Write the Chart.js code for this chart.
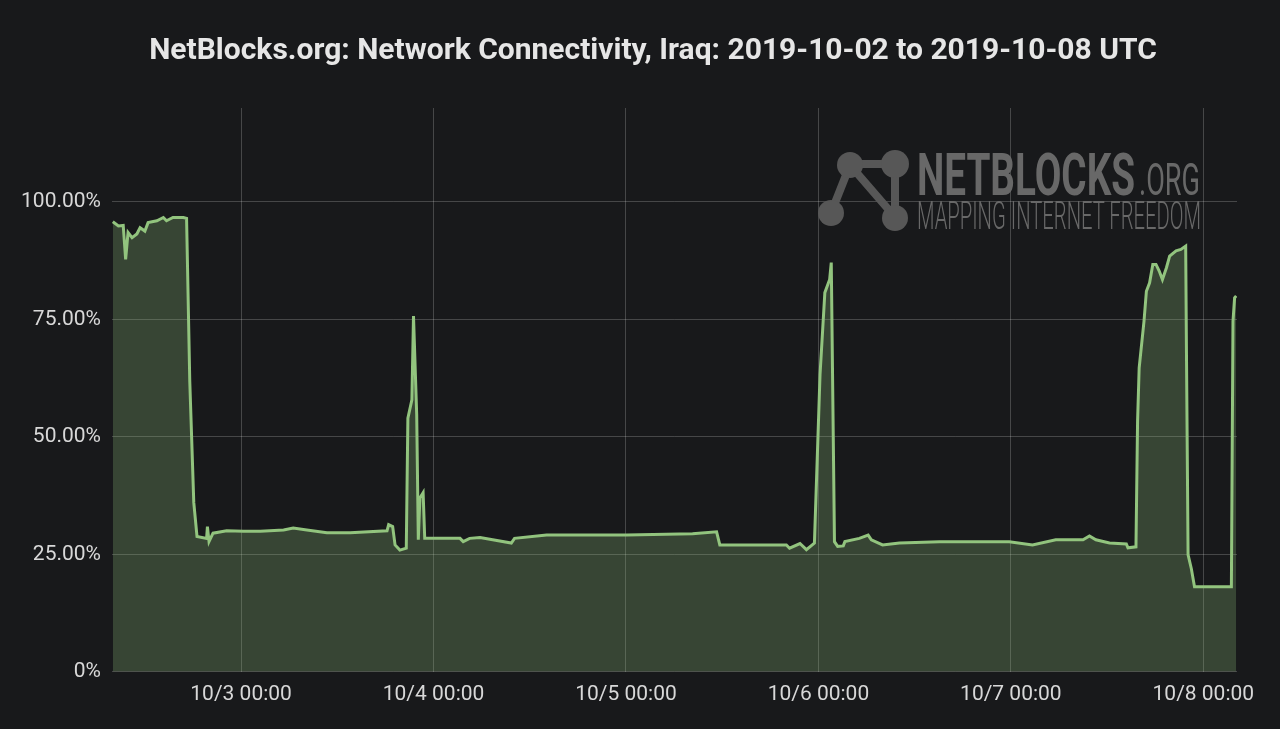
<!DOCTYPE html>
<html>
<head>
<meta charset="utf-8">
<script src="https://cdn.jsdelivr.net/npm/chart.js@4/dist/chart.umd.min.js"></script>
<style>
  html, body { margin: 0; padding: 0; background: #18191b; }
  #wrap { position: relative; width: 1280px; height: 729px; overflow: hidden; }
  #chart { position: absolute; left: 0; top: 0; }
  #mark { position: absolute; left: 0; top: 0; pointer-events: none; }
  #title {
    position: absolute; left: 0; top: 31px; width: 1306px;
    text-align: center; color: #e6e6e6;
    font: bold 30px Roboto, "DejaVu Sans", sans-serif; line-height: 36px;
  }
</style>
</head>
<body>
<div id="wrap">
  <canvas id="chart" width="1280" height="729"></canvas>
  <div id="title"></div>
  <svg id="mark" width="1280" height="729">
    <g stroke="#575757" stroke-width="8" stroke-linecap="round">
      <line x1="850" y1="165" x2="831" y2="213" />
      <line x1="850" y1="165" x2="895" y2="217" />
      <line x1="895" y1="165" x2="895" y2="217" />
      <line x1="862" y1="164" x2="882" y2="164" />
    </g>
    <g fill="#575757">
      <circle cx="850" cy="165" r="13" />
      <circle cx="895" cy="164" r="14" />
      <circle cx="831" cy="213" r="13" />
      <circle cx="895" cy="218" r="13" />
    </g>
    <g font-family="Roboto, 'DejaVu Sans', sans-serif" fill="#686868">
      <text x="917" y="195" font-size="60" font-weight="bold" textLength="218" lengthAdjust="spacingAndGlyphs">NETBLOCKS</text>
      <text x="1139" y="195" font-size="45" textLength="61" lengthAdjust="spacingAndGlyphs">.ORG</text>
      <text x="917" y="229" font-size="38" font-weight="300" textLength="284" lengthAdjust="spacingAndGlyphs">MAPPING INTERNET FREEDOM</text>
    </g>
  </svg>
</div>
<script>
// hours since 2019-10-02 00:00 UTC
const hours = [
  8.0, 8.7, 9.3, 9.6, 9.9, 10.4, 11.0, 11.4, 12.0, 12.4, 13.5, 14.3, 14.7, 15.5, 16.8, 17.2,
  17.6, 18.1, 18.5, 19.7, 19.8, 20.0, 20.5, 22.2, 24.3, 26.4, 29.3, 30.5, 32.2, 34.7, 37.6,
  42.2, 42.4, 42.9, 43.2, 43.8, 44.6, 44.8, 45.3, 45.5, 45.9, 46.1, 46.3, 46.7, 46.9,
  51.3, 51.7, 52.5, 53.8, 57.7, 58.1, 62.1, 72.1, 80.3, 83.3, 83.7, 87.0, 92.0, 92.4,
  93.7, 94.5, 95.5, 96.2, 96.8, 97.4, 97.6, 98.0, 98.4, 99.1, 99.3, 101.1, 102.2, 102.6,
  104.0, 106.1, 111.1, 119.8, 122.7, 125.6, 129.0, 129.8, 130.6, 132.3, 134.4, 134.6,
  135.6, 135.8, 136.0, 136.6, 136.9, 137.3, 137.7, 138.1, 138.5, 138.9, 139.4, 139.8,
  140.6, 141.2, 141.8, 141.9, 142.1, 142.5, 142.9, 147.5, 147.7, 147.9, 148.1
];

// connectivity, percent of normal
const connectivity = [
  95.8, 94.9, 95.0, 87.8, 93.5, 92.4, 93.2, 94.5, 93.8, 95.6, 96.0, 96.7, 96.0, 96.7, 96.7, 96.5,
  61.8, 36.0, 28.8, 28.4, 30.9, 27.7, 29.5, 30.0, 29.9, 29.9, 30.2, 30.6, 30.2, 29.6, 29.6,
  30.0, 31.3, 30.9, 27.0, 25.9, 26.3, 54.0, 57.9, 75.7, 54.7, 28.1, 37.0, 38.1, 28.4,
  28.4, 27.7, 28.4, 28.6, 27.4, 28.4, 29.1, 29.1, 29.4, 29.8, 27.0, 27.0, 27.0, 26.3,
  27.3, 26.0, 27.4, 63.3, 80.7, 83.5, 87.1, 27.7, 26.7, 26.8, 27.7, 28.4, 29.1, 28.1,
  27.0, 27.4, 27.7, 27.7, 27.0, 28.1, 28.1, 28.9, 28.1, 27.4, 27.2, 26.4,
  26.6, 53.3, 64.7, 74.6, 81.0, 82.8, 86.7, 86.7, 85.3, 83.5, 86.0, 88.5,
  89.6, 89.9, 90.6, 67.5, 24.9, 22.0, 18.1, 18.1, 74.6, 79.6, 80.0
];

const xTickHours = [24, 48, 72, 96, 120, 144];
const xTickLabels = ["10/3 00:00", "10/4 00:00", "10/5 00:00", "10/6 00:00", "10/7 00:00", "10/8 00:00"];
const yTickValues = [0, 25, 50, 75, 100];
const yTickLabels = ["0%", "25.00%", "50.00%", "75.00%", "100.00%"];

const titleText = "NetBlocks.org: Network Connectivity, Iraq: 2019-10-02 to 2019-10-08 UTC";
document.getElementById("title").textContent = titleText;

Chart.defaults.font.family = "Roboto, 'DejaVu Sans', sans-serif";

const points = hours.map((h, i) => ({ x: h, y: connectivity[i] }));

new Chart(document.getElementById("chart"), {
  type: "line",
  data: {
    datasets: [{
      data: points,
      borderColor: "#92c47e",
      backgroundColor: "rgba(146,196,125,0.26)",
      borderWidth: 3,
      pointRadius: 0,
      tension: 0,
      fill: "origin"
    }]
  },
  options: {
    responsive: false,
    animation: false,
    layout: { padding: { left: 0, right: 43, top: 108, bottom: 12 } },
    plugins: {
      legend: { display: false },
      tooltip: { enabled: false },
      title: { display: false }
    },
    scales: {
      x: {
        type: "linear",
        min: 7.9,
        max: 148.2,
        border: { display: false },
        grid: { color: "rgba(255,255,255,0.2)", drawTicks: false, lineWidth: 1 },
        afterBuildTicks: (s) => { s.ticks = xTickHours.map(v => ({ value: v })); },
        ticks: {
          color: "#d8d8d8",
          font: { size: 21 },
          padding: 10,
          maxRotation: 0,
          callback: (v) => xTickLabels[xTickHours.indexOf(v)]
        }
      },
      y: {
        min: 0,
        max: 120,
        border: { display: false },
        grid: { color: "rgba(255,255,255,0.2)", drawTicks: false, lineWidth: 1 },
        afterBuildTicks: (s) => { s.ticks = yTickValues.map(v => ({ value: v })); },
        afterFit: (s) => { s.width = 112; },
        ticks: {
          color: "#d8d8d8",
          font: { size: 21 },
          padding: 11,
          callback: (v) => yTickLabels[yTickValues.indexOf(v)]
        }
      }
    }
  }
});
</script>
</body>
</html>
